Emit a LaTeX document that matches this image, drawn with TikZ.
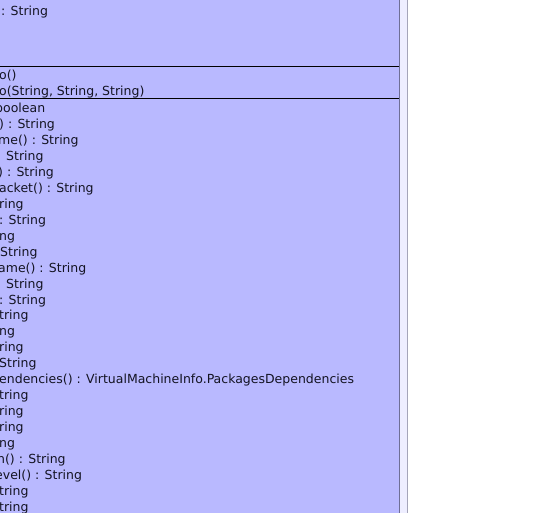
\documentclass[tikz,border=0pt]{standalone}
\usepackage{fontspec}
\setmainfont{DejaVu Sans}
\definecolor{classfill}{RGB}{185,185,255}
\definecolor{shadowfill}{RGB}{238,238,255}
\definecolor{edgeline}{RGB}{110,110,150}
\definecolor{shadowline}{RGB}{165,165,185}
\definecolor{umltext}{RGB}{20,20,35}
\begin{document}
\begin{tikzpicture}[x=1pt,y=1pt,
  member/.style={anchor=base west,inner sep=0pt,text=umltext,font=\fontsize{12.5}{14}\selectfont}]
			\useasboundingbox (0,0) rectangle (540,-512);
			\clip (0,0) rectangle (540,-512);
			\path
			(-20,20) coordinate (TL)
			(399,-530) coordinate (BR)
			;
			% class box with its shadow strip
			\fill[shadowfill] (399,20) rectangle (407.5,-530);
			\draw[shadowline,line width=1pt] (407.5,20)--(407.5,-530);
			\fill[classfill] (TL) rectangle (BR);
			\draw[edgeline,line width=1pt] (399,20)--(399,-530);
			\draw[black,line width=1pt] (-20,-66)--(398.5,-66) (-20,-98)--(398.5,-98);
			% attributes
			\node[member] (a1) at (1,-15) {: String};
			% constructors
			\node[member] (c1) at (-1,-79) {o()};
			\node[member] (c2) at (-1,-95) {o(String, String, String)};
			% operations
			\node[member] (m1) at (-5,-112) {boolean};
			\node[member] (m2) at (-1,-128) {) : String};
			\node[member] (m3) at (-2,-144) {me() : String};
			\node[member] (m4) at (6,-160) {String};
			\node[member] (m5) at (-2,-176) {) : String};
			\node[member] (m6) at (-1,-192) {acket() : String};
			\node[member] (m7) at (-1,-208) {ring};
			\node[member] (m8) at (-1,-224) {: String};
			\node[member] (m9) at (-1,-240) {ng};
			\node[member] (m10) at (0,-256) {String};
			\node[member] (m11) at (-2,-272) {ame() : String};
			\node[member] (m12) at (6,-288) {String};
			\node[member] (m13) at (-1,-304) {: String};
			\node[member] (m14) at (-1,-319.5) {tring};
			\node[member] (m15) at (-1,-335.5) {ng};
			\node[member] (m16) at (-1,-351.5) {ring};
			\node[member] (m17) at (-1,-367.5) {String};
			\node[member] (m18) at (-1,-383.5) {endencies() : VirtualMachineInfo.PackagesDependencies};
			\node[member] (m19) at (-1,-399.5) {tring};
			\node[member] (m20) at (-1,-415.5) {ring};
			\node[member] (m21) at (-1,-431.5) {ring};
			\node[member] (m22) at (-1,-447.5) {ng};
			\node[member] (m23) at (-3,-463) {n() : String};
			\node[member] (m24) at (-5,-479) {evel() : String};
			\node[member] (m25) at (-1,-495) {tring};
			\node[member] (m26) at (-1,-511) {tring};
	\end{tikzpicture}
\end{document}
